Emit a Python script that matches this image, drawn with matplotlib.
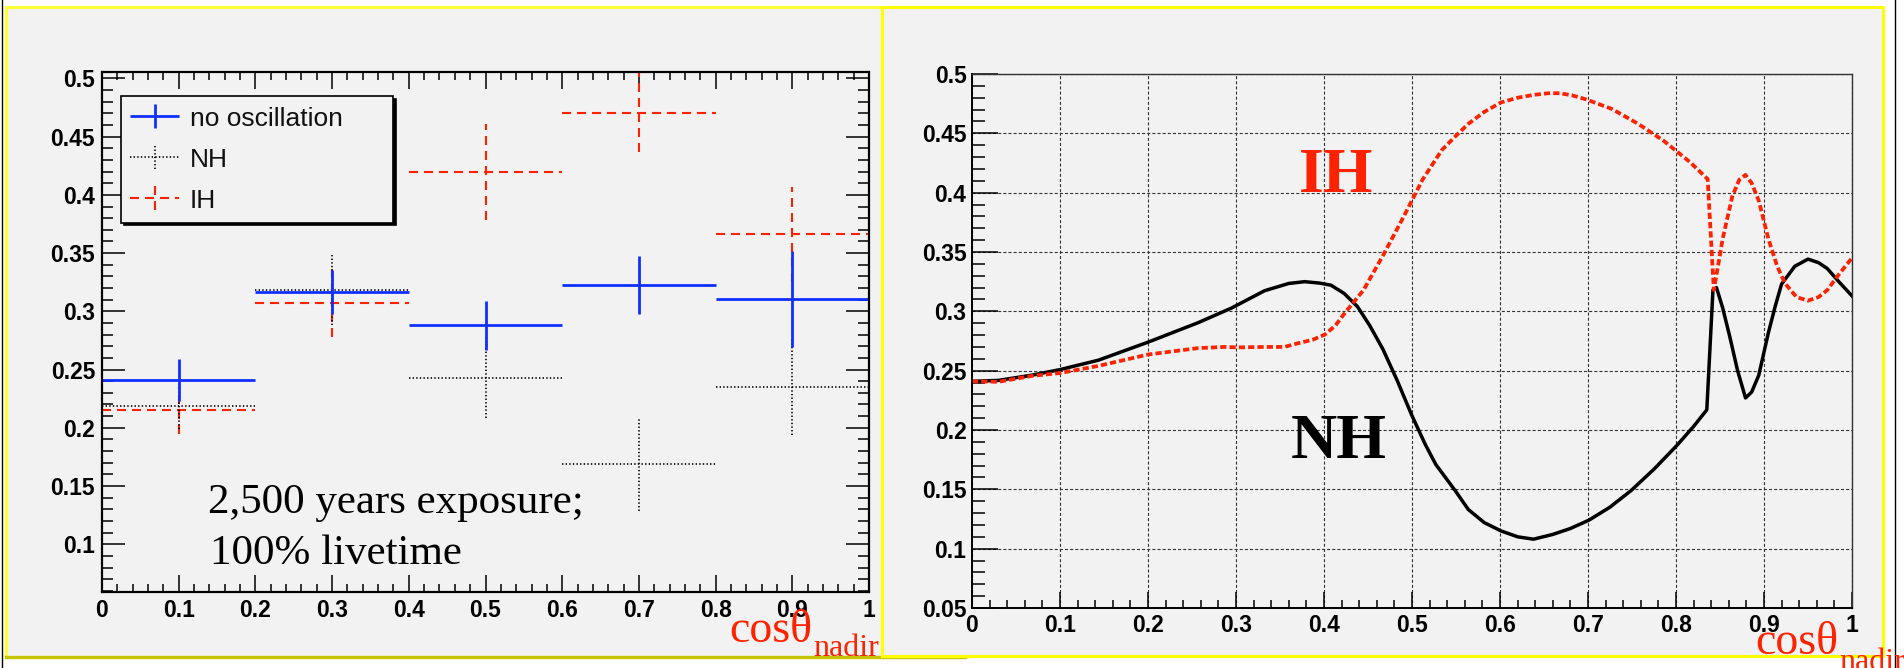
import numpy as np
import matplotlib
matplotlib.use("Agg")
import matplotlib.pyplot as plt
from matplotlib.patches import Rectangle
from matplotlib.lines import Line2D
from matplotlib.container import ErrorbarContainer
from matplotlib.legend_handler import HandlerErrorbar

plt.rcParams['font.family'] = ['Liberation Sans', 'DejaVu Sans']
plt.rcParams['lines.scale_dashes'] = False

# ---- left panel: binned ratios ----
bin_centers = [0.1, 0.3, 0.5, 0.7, 0.9]
bin_half = [0.1, 0.1, 0.1, 0.1, 0.1]
noosc = [0.241, 0.3166, 0.288, 0.3228, 0.3107]
noosc_err = [0.018, 0.019, 0.021, 0.025, 0.041]
nh_bins = [0.2187, 0.3183, 0.243, 0.1686, 0.235]
nh_bins_err = [0.02, 0.030, 0.035, 0.040, 0.041]
ih_bins = [0.215, 0.307, 0.4196, 0.4704, 0.366]
ih_bins_err = [0.02, 0.029, 0.041, 0.034, 0.041]
legend_labels = ['no oscillation', 'NH', 'IH']

# ---- right panel: continuous curves ----
nh_x = [0.0, 0.03, 0.068, 0.1, 0.1435, 0.2, 0.2568, 0.2947, 0.3326, 0.36, 0.378,
        0.395, 0.408, 0.423, 0.438, 0.452, 0.467, 0.483, 0.5, 0.515, 0.527, 0.549,
        0.564, 0.582, 0.601, 0.62, 0.638, 0.66, 0.68, 0.701, 0.725, 0.749, 0.775,
        0.801, 0.82, 0.835, 0.842, 0.846, 0.853, 0.861, 0.87, 0.879, 0.886, 0.894,
        0.905, 0.913, 0.92, 0.935, 0.95, 0.962, 0.972, 0.985, 1.0]
nh_y = [0.241, 0.2418, 0.2462, 0.2509, 0.2588, 0.274, 0.2904, 0.3027, 0.3174, 0.3235,
        0.325, 0.3238, 0.322, 0.315, 0.304, 0.288, 0.268, 0.242, 0.212, 0.188, 0.171,
        0.149, 0.133, 0.122, 0.115, 0.110, 0.108, 0.112, 0.117, 0.124, 0.135, 0.149,
        0.167, 0.187, 0.203, 0.217, 0.318, 0.320, 0.303, 0.279, 0.250, 0.227, 0.232,
        0.246, 0.282, 0.305, 0.323, 0.338, 0.344, 0.341, 0.336, 0.325, 0.313]
ih_x = [0.0, 0.03, 0.068, 0.1, 0.1435, 0.2, 0.2568, 0.287, 0.302, 0.333, 0.355, 0.371,
        0.387, 0.401, 0.413, 0.423, 0.445, 0.467, 0.49, 0.512, 0.534, 0.55, 0.564,
        0.582, 0.601, 0.62, 0.638, 0.655, 0.668, 0.682, 0.697, 0.727, 0.757, 0.786,
        0.816, 0.831, 0.836, 0.843, 0.847, 0.853, 0.864, 0.872, 0.879, 0.886, 0.894,
        0.905, 0.915, 0.924, 0.937, 0.95, 0.962, 0.972, 0.985, 1.0]
ih_y = [0.241, 0.2406, 0.2456, 0.248, 0.254, 0.2636, 0.269, 0.270, 0.2696, 0.270, 0.270,
        0.2732, 0.276, 0.2804, 0.288, 0.298, 0.318, 0.347, 0.379, 0.411, 0.436, 0.448,
        0.458, 0.468, 0.476, 0.480, 0.4824, 0.4838, 0.4838, 0.482, 0.4788, 0.4706,
        0.458, 0.4437, 0.4257, 0.415, 0.4114, 0.318, 0.335, 0.361, 0.397, 0.411, 0.415,
        0.408, 0.3934, 0.361, 0.338, 0.3234, 0.312, 0.309, 0.312, 0.318, 0.331, 0.345]

W, H = 1904, 668
RED = '#ff2200'
BLUE = '#1030ff'
BG = '#f2f2f2'


def fx(px):
    return px / W


def fy(py):
    return 1 - py / H


fig = plt.figure(figsize=(W / 100, H / 100), dpi=100)
fig.patch.set_facecolor('white')

# pad frames
fig.add_artist(Rectangle((fx(6), fy(657)), (965 - 6) / W, (657 - 7) / H,
                         transform=fig.transFigure, facecolor=BG,
                         edgecolor='#ffff33', lw=2.2, zorder=-3))
fig.add_artist(Line2D([fx(6), fx(965)], [fy(657), fy(657)], transform=fig.transFigure,
                      color='#c8c400', lw=2.4, zorder=-2.5))
fig.add_artist(Rectangle((fx(882), fy(656)), (1883 - 882) / W, (656 - 7) / H,
                         transform=fig.transFigure, facecolor=BG,
                         edgecolor='#ffff00', lw=2.2, zorder=-2))
for xe in (2, 1895):
    fig.add_artist(Line2D([fx(xe), fx(xe)], [0, 1], transform=fig.transFigure,
                          color='black', lw=1.0, zorder=-1))


def style_ticks(ax, ylim, ymaj, ymin_ticks, both_sides, xlen, ylen):
    xmaj = [0, 0.1, 0.2, 0.3, 0.4, 0.5, 0.6, 0.7, 0.8, 0.9, 1.0]
    ax.set_xlim(0, 1)
    ax.set_ylim(*ylim)
    ax.set_xticks(xmaj, ['%g' % v for v in xmaj], fontweight='bold', fontsize=16.5)
    ax.set_xticks(np.arange(0, 1.0001, 0.02), minor=True)
    ax.set_yticks(ymaj, ['%g' % v for v in ymaj], fontweight='bold', fontsize=16.5)
    ax.set_yticks(ymin_ticks, minor=True)
    ax.tick_params(axis='x', which='major', direction='in', length=xlen, width=1.1,
                   pad=5, top=both_sides, bottom=True)
    ax.tick_params(axis='x', which='minor', direction='in', length=xlen / 2, width=1.1,
                   top=both_sides, bottom=True)
    ax.tick_params(axis='y', which='major', direction='in', length=ylen, width=1.1,
                   pad=5, right=both_sides, left=True)
    ax.tick_params(axis='y', which='minor', direction='in', length=ylen / 2, width=1.1,
                   right=both_sides, left=True)


# ---- left axes ----
ax1 = fig.add_axes([fx(102), fy(592), (869 - 102) / W, (592 - 72) / H])
ax1.set_facecolor(BG)
for s in ax1.spines.values():
    s.set_linewidth(1.6)
style_ticks(ax1, (0.059, 0.5055), [0.1, 0.15, 0.2, 0.25, 0.3, 0.35, 0.4, 0.45, 0.5],
            np.arange(0.06, 0.5051, 0.01), True, 12, 16.5)

eb_ih = ax1.errorbar(bin_centers, ih_bins, xerr=bin_half, yerr=ih_bins_err, fmt='none',
                     ecolor=RED, elinewidth=1.5, capsize=0)
eb_nh = ax1.errorbar(bin_centers, nh_bins, xerr=bin_half, yerr=nh_bins_err, fmt='none',
                     ecolor='black', elinewidth=1.2, capsize=0)
eb_no = ax1.errorbar(bin_centers, noosc, xerr=bin_half, yerr=noosc_err, fmt='none',
                     ecolor=BLUE, elinewidth=2.0, capsize=0)
for c in eb_ih.lines[2]:
    c.set_linestyle((0, (6.5, 4.3)))
for c in eb_nh.lines[2]:
    c.set_linestyle((0, (1.0, 1.6)))

leg = ax1.legend([eb_no, eb_nh, eb_ih], legend_labels, loc='upper left',
                 bbox_to_anchor=(fx(121), fy(223), (393 - 121) / W, (223 - 96) / H),
                 bbox_transform=fig.transFigure, mode='expand', borderaxespad=0,
                 fontsize=19, handlelength=1.85, handleheight=1.0, handletextpad=0.4,
                 labelspacing=0.58, borderpad=0.35, fancybox=False, edgecolor='black',
                 facecolor=BG, framealpha=1, shadow={'color': 'black', 'alpha': 1},
                 handler_map={ErrorbarContainer: HandlerErrorbar(xerr_size=0.93,
                                                                  yerr_size=0.46)})
leg.get_frame().set_linewidth(1.2)
for t in leg.get_texts():
    t.set_color('#111111')

fig.text(fx(208), fy(513), '2,500 years exposure;', family='Liberation Serif',
         fontsize=31, va='baseline', ha='left')
fig.text(fx(210), fy(564), '100% livetime', family='Liberation Serif',
         fontsize=31, va='baseline', ha='left')

# ---- right axes ----
ax2 = fig.add_axes([fx(972), fy(608), (1852 - 972) / W, (608 - 74) / H])
ax2.set_facecolor(BG)
ax2.spines['left'].set_linewidth(1.4)
ax2.spines['bottom'].set_linewidth(1.4)
for s in ('top', 'right'):
    ax2.spines[s].set_linewidth(1.0)
    ax2.spines[s].set_color('#333333')
style_ticks(ax2, (0.05, 0.5), [0.05, 0.1, 0.15, 0.2, 0.25, 0.3, 0.35, 0.4, 0.45, 0.5],
            np.arange(0.05, 0.5001, 0.01), False, 11.5, 19)
ax2.tick_params(axis='both', which='major', pad=4)
ax2.set_axisbelow(True)
ax2.grid(True, which='major', color='#333333', lw=0.8, linestyle=(0, (2.2, 1.5)))

ax2.plot(nh_x, nh_y, color='black', lw=2.5, solid_joinstyle='round')
ax2.plot(ih_x, ih_y, color=RED, lw=2.7, linestyle=(0, (4.5, 2.2)))

fig.text(fx(1299), fy(192), 'IH', family='Liberation Serif', fontweight='bold',
         fontsize=46, color=RED, va='baseline', ha='left')
fig.text(fx(1291), fy(458), 'NH', family='Liberation Serif', fontweight='bold',
         fontsize=46, color='black', va='baseline', ha='left')

# axis titles
for xr, yb, yb2 in ((812, 642, 656), (1838, 654, 670)):
    fig.text(fx(xr), fy(yb), 'cos\u03b8', family='Liberation Serif', fontsize=33,
             color=RED, va='baseline', ha='right')
    fig.text(fx(xr + 1), fy(yb2), 'nadir', family='Liberation Serif', fontsize=23,
             color=RED, va='baseline', ha='left')

fig.savefig('out.png', dpi=100)
